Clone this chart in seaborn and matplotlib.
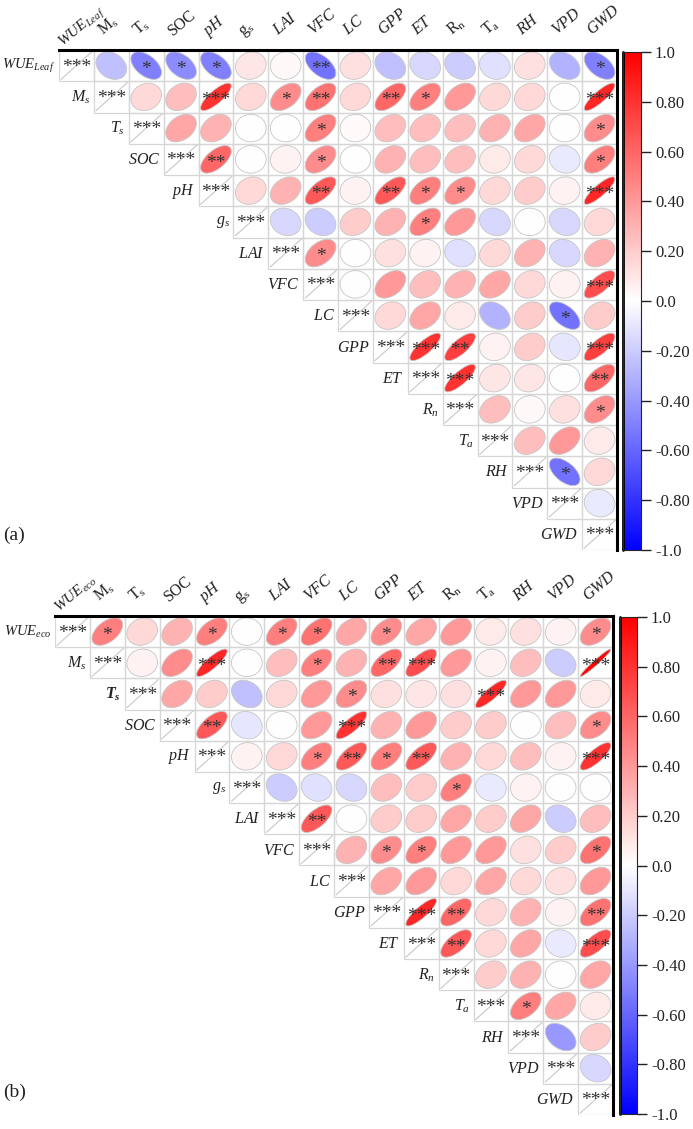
import numpy as np
import pandas as pd
import matplotlib
matplotlib.use("Agg")
import matplotlib.pyplot as plt
import seaborn as sns
from matplotlib.patches import Ellipse, Rectangle
from matplotlib.colors import ListedColormap, Normalize
from matplotlib.cm import ScalarMappable

sns.set_theme(style="white")
plt.rcParams['font.family'] = ['Liberation Serif', 'DejaVu Serif']
plt.rcParams['mathtext.fontset'] = 'custom'
plt.rcParams['mathtext.rm'] = 'Liberation Serif'
plt.rcParams['mathtext.it'] = 'Liberation Serif:italic'
plt.rcParams['mathtext.bf'] = 'Liberation Serif:bold'
try:
    plt.rcParams['mathtext.bfit'] = 'Liberation Serif:italic:bold'
    BOLD_TS = r'$\mathbfit{T_s}$'
except KeyError:
    BOLD_TS = r'$\mathbf{T_s}$'

# ---------------- labels ----------------
row_labels_a = [r'$WUE_{Leaf}$', r'$M_s$', r'$T_s$', r'$SOC$', r'$pH$', r'$g_s$', r'$LAI$', r'$VFC$',
                r'$LC$', r'$GPP$', r'$ET$', r'$R_n$', r'$T_a$', r'$RH$', r'$VPD$', r'$GWD$']
col_labels_a = [r'$WUE_{Leaf}$', r'$\mathrm{M_s}$', r'$\mathrm{T_s}$', 'SOC', r'$pH$', r'$\mathrm{g_s}$',
                r'$LAI$', r'$VFC$', r'$LC$', r'$GPP$', r'$ET$', r'$\mathrm{R_n}$', r'$\mathrm{T_a}$',
                r'$RH$', r'$VPD$', r'$GWD$']
row_labels_b = [r'$WUE_{eco}$', r'$M_s$', BOLD_TS, r'$SOC$', r'$pH$', r'$g_s$', r'$LAI$', r'$VFC$',
                r'$LC$', r'$GPP$', r'$ET$', r'$R_n$', r'$T_a$', r'$RH$', r'$VPD$', r'$GWD$']
col_labels_b = [r'$WUE_{eco}$', r'$\mathrm{M_s}$', r'$\mathrm{T_s}$', 'SOC', r'$pH$', r'$\mathrm{g_s}$',
                r'$LAI$', r'$VFC$', r'$LC$', r'$GPP$', r'$ET$', r'$\mathrm{R_n}$', r'$\mathrm{T_a}$',
                r'$RH$', r'$VPD$', r'$GWD$']

cbar_ticks = [1.0, 0.8, 0.6, 0.4, 0.2, 0.0, -0.2, -0.4, -0.6, -0.8, -1.0]
cbar_ticklabels = ['1.0', '0.80', '0.60', '0.40', '0.20', '0.0', '-0.20', '-0.40', '-0.60', '-0.80', '-1.0']

# ---------------- panel (a) correlations (upper triangle, row by row) ----------------
a_WUE = [-0.25, -0.50, -0.45, -0.50, 0.10, 0.03, -0.55, 0.12, -0.25, -0.15, -0.20, -0.12, 0.12, -0.30, -0.50]
a_Ms  = [0.15, 0.25, 0.80, 0.15, 0.45, 0.55, 0.15, 0.60, 0.50, 0.40, 0.15, 0.15, 0.00, 0.85]
a_Ts  = [0.35, 0.30, 0.00, 0.00, 0.50, 0.02, 0.25, 0.25, 0.25, 0.30, 0.35, 0.00, 0.45]
a_SOC = [0.60, 0.00, 0.05, 0.45, 0.00, 0.30, 0.25, 0.25, 0.08, 0.15, -0.08, 0.50]
a_pH  = [0.15, 0.30, 0.65, 0.05, 0.65, 0.50, 0.45, 0.15, 0.20, 0.05, 0.85]
a_gs  = [-0.15, -0.20, 0.20, 0.30, 0.50, 0.40, -0.15, 0.00, -0.15, 0.15]
a_LAI = [0.45, 0.00, 0.12, 0.05, -0.12, 0.15, 0.30, -0.15, 0.30]
a_VFC = [0.00, 0.40, 0.25, 0.30, 0.35, 0.15, 0.05, 0.70]
a_LC  = [0.15, 0.35, 0.08, -0.30, 0.20, -0.55, 0.20]
a_GPP = [0.80, 0.75, 0.05, 0.20, -0.10, 0.75]
a_ET  = [0.80, 0.10, 0.10, 0.00, 0.60]
a_Rn  = [0.25, 0.03, 0.12, 0.45]
a_Ta  = [0.25, 0.40, 0.08]
a_RH  = [-0.55, 0.15]
a_VPD = [-0.08]

# significance (number of stars)
sa_WUE = [0, 1, 1, 1, 0, 0, 2, 0, 0, 0, 0, 0, 0, 0, 1]
sa_Ms  = [0, 0, 3, 0, 1, 2, 0, 2, 1, 0, 0, 0, 0, 3]
sa_Ts  = [0, 0, 0, 0, 1, 0, 0, 0, 0, 0, 0, 0, 1]
sa_SOC = [2, 0, 0, 1, 0, 0, 0, 0, 0, 0, 0, 1]
sa_pH  = [0, 0, 2, 0, 2, 1, 1, 0, 0, 0, 3]
sa_gs  = [0, 0, 0, 0, 1, 0, 0, 0, 0, 0]
sa_LAI = [1, 0, 0, 0, 0, 0, 0, 0, 0]
sa_VFC = [0, 0, 0, 0, 0, 0, 0, 3]
sa_LC  = [0, 0, 0, 0, 0, 1, 0]
sa_GPP = [3, 2, 0, 0, 0, 3]
sa_ET  = [3, 0, 0, 0, 2]
sa_Rn  = [0, 0, 0, 1]
sa_Ta  = [0, 0, 0]
sa_RH  = [1, 0]
sa_VPD = [0]

# ---------------- panel (b) correlations ----------------
b_WUE = [0.50, 0.15, 0.30, 0.50, 0.00, 0.50, 0.55, 0.35, 0.45, 0.35, 0.40, 0.08, 0.12, 0.05, 0.45]
b_Ms  = [0.05, 0.45, 0.85, 0.00, 0.25, 0.50, 0.30, 0.60, 0.70, 0.40, 0.05, 0.25, -0.20, 0.97]
b_Ts  = [0.35, 0.20, -0.25, 0.15, 0.40, 0.45, 0.12, 0.10, 0.12, 0.85, 0.40, 0.40, 0.08]
b_SOC = [0.65, -0.10, 0.00, 0.40, 0.80, 0.30, 0.40, 0.20, 0.20, 0.00, 0.25, 0.45]
b_pH  = [0.05, 0.15, 0.50, 0.65, 0.50, 0.65, 0.30, 0.15, 0.25, 0.05, 0.80]
b_gs  = [-0.20, -0.12, -0.15, 0.25, 0.20, 0.50, -0.08, 0.05, 0.00, 0.00]
b_LAI = [0.65, 0.00, 0.20, 0.20, 0.35, 0.20, 0.35, -0.20, 0.25]
b_VFC = [0.30, 0.45, 0.50, 0.40, 0.40, 0.12, 0.20, 0.55]
b_LC  = [0.35, 0.40, 0.15, 0.35, 0.15, 0.12, 0.40]
b_GPP = [0.85, 0.60, 0.15, 0.30, 0.05, 0.55]
b_ET  = [0.65, 0.15, 0.35, -0.08, 0.70]
b_Rn  = [0.20, 0.30, 0.00, 0.35]
b_Ta  = [0.50, 0.35, 0.08]
b_RH  = [-0.40, 0.20]
b_VPD = [-0.15]

sb_WUE = [1, 0, 0, 1, 0, 1, 1, 0, 1, 0, 0, 0, 0, 0, 1]
sb_Ms  = [0, 0, 3, 0, 0, 1, 0, 2, 3, 0, 0, 0, 0, 3]
sb_Ts  = [0, 0, 0, 0, 0, 1, 0, 0, 0, 3, 0, 0, 0]
sb_SOC = [2, 0, 0, 0, 3, 0, 0, 0, 0, 0, 0, 1]
sb_pH  = [0, 0, 1, 2, 1, 2, 0, 0, 0, 0, 3]
sb_gs  = [0, 0, 0, 0, 0, 1, 0, 0, 0, 0]
sb_LAI = [2, 0, 0, 0, 0, 0, 0, 0, 0]
sb_VFC = [0, 1, 1, 0, 0, 0, 0, 1]
sb_LC  = [0, 0, 0, 0, 0, 0, 0]
sb_GPP = [3, 2, 0, 0, 0, 2]
sb_ET  = [2, 0, 0, 0, 3]
sb_Rn  = [0, 0, 0, 0]
sb_Ta  = [1, 0, 0]
sb_RH  = [0, 0]
sb_VPD = [0]


def build(rows):
    n = len(rows) + 1
    M = np.full((n, n), np.nan)
    for i, r in enumerate(rows):
        for k, v in enumerate(r):
            M[i, i + 1 + k] = v
    return M


Ma = build([a_WUE, a_Ms, a_Ts, a_SOC, a_pH, a_gs, a_LAI, a_VFC, a_LC, a_GPP, a_ET, a_Rn, a_Ta, a_RH, a_VPD])
Sa = build([sa_WUE, sa_Ms, sa_Ts, sa_SOC, sa_pH, sa_gs, sa_LAI, sa_VFC, sa_LC, sa_GPP, sa_ET, sa_Rn, sa_Ta, sa_RH, sa_VPD])
Mb = build([b_WUE, b_Ms, b_Ts, b_SOC, b_pH, b_gs, b_LAI, b_VFC, b_LC, b_GPP, b_ET, b_Rn, b_Ta, b_RH, b_VPD])
Sb = build([sb_WUE, sb_Ms, sb_Ts, sb_SOC, sb_pH, sb_gs, sb_LAI, sb_VFC, sb_LC, sb_GPP, sb_ET, sb_Rn, sb_Ta, sb_RH, sb_VPD])

cmap = plt.get_cmap('bwr')
norm = Normalize(-1, 1)
STAR_COLOR = '#333333'
TXT = '#222222'


def draw_panel(ax, cax, M, S, col_labels, row_labels):
    n = M.shape[0]
    mask = np.tril(np.ones((n, n), dtype=bool), k=-1)
    bg = pd.DataFrame(np.zeros((n, n)))
    sns.heatmap(bg, mask=mask, cmap=ListedColormap(['white']), cbar=False,
                linewidths=0, ax=ax, xticklabels=False, yticklabels=False)
    ax.set_facecolor('white')
    for sp in ax.spines.values():
        sp.set_visible(False)
    s = 0.44
    for i in range(n):
        for j in range(i, n):
            ax.add_patch(Rectangle((j, i), 1, 1, fill=False, edgecolor='#d6d6d6', lw=0.9))
    for i in range(n):
        # diagonal cell
        ax.plot([i + 0.06, i + 0.96], [i + 0.94, i + 0.04], color='#c8c8c8', lw=0.8)
        ax.text(i + 0.5, i + 0.55, '***', ha='center', va='center', fontsize=14, color=STAR_COLOR)
        for j in range(i + 1, n):
            r = M[i, j]
            a = s * np.sqrt(1 + abs(r))
            b = s * np.sqrt(1 - abs(r))
            ang = -45 if r >= 0 else 45
            ax.add_patch(Ellipse((j + 0.5, i + 0.5), 2 * a, 2 * b, angle=ang,
                                 facecolor=cmap(norm(r)), edgecolor='#c6c6c6', lw=0.6))
            k = int(S[i, j])
            if k:
                ax.text(j + 0.5, i + 0.62, '*' * k, ha='center', va='center',
                        fontsize=14, color=STAR_COLOR)
        # row label
        ax.text(i - 0.1, i + 0.52, row_labels[i], ha='right', va='center',
                fontsize=10.5 if i == 0 else 11.5, color=TXT)
        # column label
        if i == 0:
            cx, cy, fs = i + 0.12, -0.1, 11
        else:
            cx, cy, fs = i + 0.27, -0.45, 11.5
        ax.text(cx, cy, col_labels[i], ha='left', va='baseline', rotation=40,
                rotation_mode='anchor', fontsize=fs, color=TXT)
    ax.plot([0, n], [0, 0], color='black', lw=2.2, clip_on=False, solid_capstyle='projecting')
    ax.plot([n, n], [0, n], color='black', lw=2.2, clip_on=False, solid_capstyle='projecting')
    ax.set_xlim(0, n)
    ax.set_ylim(n, 0)

    sm = ScalarMappable(norm=norm, cmap=cmap)
    cb = plt.gcf().colorbar(sm, cax=cax, ticks=cbar_ticks)
    cb.set_ticklabels(cbar_ticklabels)
    cb.outline.set_linewidth(0.8)
    cax.tick_params(axis='y', length=7, width=1, direction='out', labelsize=12, color=TXT,
                    labelcolor=TXT, pad=3, right=True)
    cax.plot([0, 0], [0, 1], color='black', lw=2.0, transform=cax.transAxes, clip_on=False)


fig = plt.figure(figsize=(6.93, 11.29), dpi=100)
W, H = 693.0, 1129.0
ax_a = fig.add_axes([59 / W, 1 - 550 / H, 558 / W, 500 / H])
cax_a = fig.add_axes([623 / W, 1 - 550 / H, 18 / W, 498 / H])
ax_b = fig.add_axes([55 / W, 1 - 1115 / H, 558 / W, 499 / H])
cax_b = fig.add_axes([620 / W, 1 - 1114 / H, 17 / W, 497 / H])

draw_panel(ax_a, cax_a, Ma, Sa, col_labels_a, row_labels_a)
draw_panel(ax_b, cax_b, Mb, Sb, col_labels_b, row_labels_b)

fig.text(3 / W, 1 - 535 / H, '(a)', fontsize=14, va='center', ha='left', color=TXT)
fig.text(3 / W, 1 - 1092 / H, '(b)', fontsize=14, va='center', ha='left', color=TXT)

fig.savefig('out.png', dpi=100)
